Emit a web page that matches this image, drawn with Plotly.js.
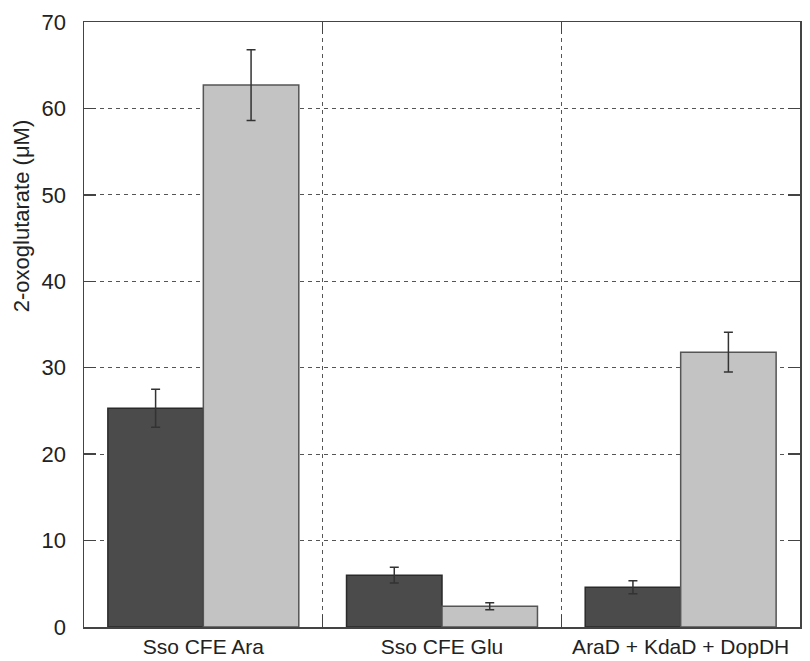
<!DOCTYPE html>
<html>
<head>
<meta charset="utf-8">
<script src="https://cdn.plot.ly/plotly-3.0.1.min.js"></script>
<style>
  html, body { margin: 0; padding: 0; background: #fff; }
  #chart { width: 810px; height: 661px; }
</style>
</head>
<body>
<div id="chart"></div>
<script>
// Sample groups along the x axis
const categories = ['Sso CFE Ara', 'Sso CFE Glu', 'AraD + KdaD + DopDH'];

// 2-oxoglutarate concentrations (µM), two conditions per group
const darkValues  = [25.3, 6.0, 4.6];
const darkErrors  = [2.2, 0.9, 0.75];
const lightValues = [62.7, 2.4, 31.8];
const lightErrors = [4.1, 0.4, 2.3];

// y axis ticks
const yTicks = [0, 10, 20, 30, 40, 50, 60, 70];

const FONT = 'Liberation Sans, Arial, Helvetica, sans-serif';
const TEXT = '#222222';

const errStyle = { type: 'data', visible: true, color: '#333333', thickness: 1.5, width: 4.5 };

const traces = [
  {
    type: 'bar', x: categories, y: darkValues,
    marker: { color: '#4b4b4b', line: { color: '#2a2a2a', width: 1.5 } },
    error_y: Object.assign({ array: darkErrors }, errStyle),
    hoverinfo: 'skip'
  },
  {
    type: 'bar', x: categories, y: lightValues,
    marker: { color: '#c3c3c3', line: { color: '#555555', width: 1.5 } },
    error_y: Object.assign({ array: lightErrors }, errStyle),
    hoverinfo: 'skip'
  }
];

const gridDash = '4px,4px';

const layout = {
  width: 810, height: 661,
  margin: { l: 84, r: 10, t: 22, b: 34, pad: 0 },
  paper_bgcolor: '#ffffff', plot_bgcolor: '#ffffff',
  showlegend: false,
  barmode: 'group', bargap: 0.2, bargroupgap: 0,
  font: { family: FONT, size: 21, color: TEXT },
  xaxis: {
    type: 'category',
    tickson: 'boundaries',
    ticks: 'inside', ticklen: 12, tickwidth: 1.5, tickcolor: '#444',
    showgrid: true, gridcolor: '#555555', gridwidth: 1, griddash: gridDash,
    showline: true, linecolor: '#444444', linewidth: 1.5, mirror: 'ticks',
    tickfont: { family: FONT, size: 21, color: TEXT },
    ticklabelstandoff: 0,
    zeroline: false, fixedrange: true
  },
  yaxis: {
    range: [0, 70],
    tickmode: 'array', tickvals: yTicks, ticktext: yTicks.map(String),
    ticks: 'inside', ticklen: 12, tickwidth: 1.5, tickcolor: '#444',
    showgrid: true, gridcolor: '#555555', gridwidth: 1, griddash: gridDash,
    showline: true, linecolor: '#444444', linewidth: 1.5, mirror: 'ticks',
    tickfont: { family: FONT, size: 22, color: TEXT },
    ticklabelstandoff: 12,
    zeroline: false, fixedrange: true
  },
  annotations: [{
    text: '2-oxoglutarate (μM)',
    xref: 'paper', yref: 'paper',
    x: -0.088, y: 0.679, xanchor: 'center', yanchor: 'middle',
    textangle: -90, showarrow: false,
    font: { family: FONT, size: 22, color: TEXT }
  }]
};

Plotly.newPlot('chart', traces, layout, { displayModeBar: false, staticPlot: true });
</script>
</body>
</html>
